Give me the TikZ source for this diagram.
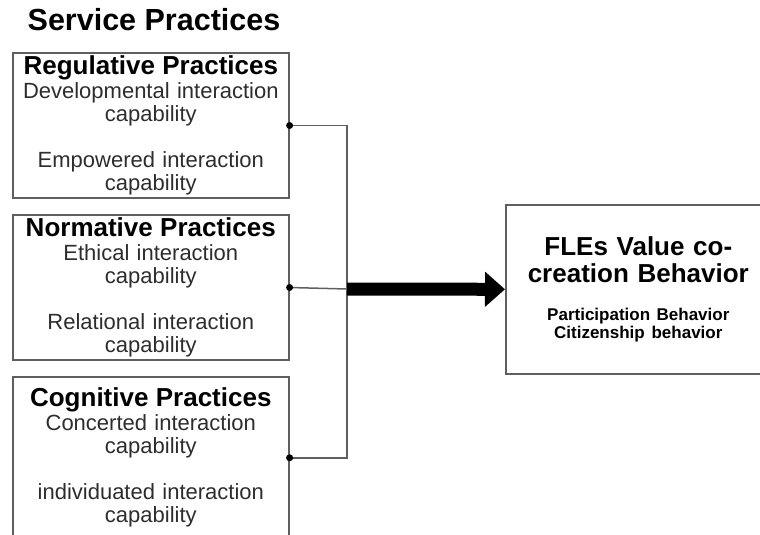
\documentclass[tikz,border=0pt]{standalone}
\usepackage{fontspec}
\setmainfont{Liberation Sans}
\usetikzlibrary{arrows.meta}
\definecolor{boxgray}{RGB}{95,95,95}
\definecolor{txtgray}{RGB}{45,45,45}
\newcommand{\hdr}{\fontsize{26}{27}\selectfont\bfseries\color{black}}
\begin{document}
\begin{tikzpicture}[
    x=1pt, y=-1pt,
    practice/.style={rectangle, draw=boxgray, line width=1.6pt, anchor=north west, inner sep=3pt, text width=270pt, align=center, minimum height=143pt, text=txtgray, font=\fontsize{22}{23.5}\selectfont},
    outcome/.style={rectangle, draw=boxgray, line width=1.6pt, anchor=north west, inner sep=3pt, text width=259pt, align=center, minimum height=169pt, font=\fontsize{26}{27}\selectfont\bfseries},
    title/.style={font=\fontsize{30.5}{31}\selectfont\bfseries},
    wire/.style={draw=boxgray, line width=1.5pt},
    dot/.style={fill=black},
    bigarrow/.style={-{Triangle[length=20pt, width=34pt]}, line width=13pt}
]
    \clip (0,0) rectangle (760,535);
    \node[title] (sp) at (154,20) {Service Practices};

    \node[practice] (reg) at (12,52) {{\hdr Regulative Practices}\\Developmental interaction\\capability\\[22pt]Empowered interaction\\capability};
    \node[practice] (norm) at (12,214) {{\hdr Normative Practices}\\Ethical interaction\\capability\\[22pt]Relational interaction\\capability};
    \node[practice, minimum height=162pt] (cog) at (12,376) {{\hdr Cognitive Practices}\\Concerted interaction\\capability\\[22pt]individuated interaction\\capability};

    \node[outcome] (fle) at (505,204) {FLEs Value co-\\creation Behavior\par\vspace{20pt}{\fontsize{17}{18}\selectfont\spaceskip=0pt Participation Behavior\\Citizenship behavior\par}};

    \coordinate (join) at (347,289);
    \draw[wire] (reg.east) -| (join) |- (cog.east);
    \draw[wire] (norm.east) -- (join);
    \fill[dot] (reg.east) circle (3.5);
    \fill[dot] (norm.east) circle (3.5);
    \fill[dot] (cog.east) circle (3.5);
    \draw[bigarrow] (join) -- (fle.west);
\end{tikzpicture}
\end{document}
